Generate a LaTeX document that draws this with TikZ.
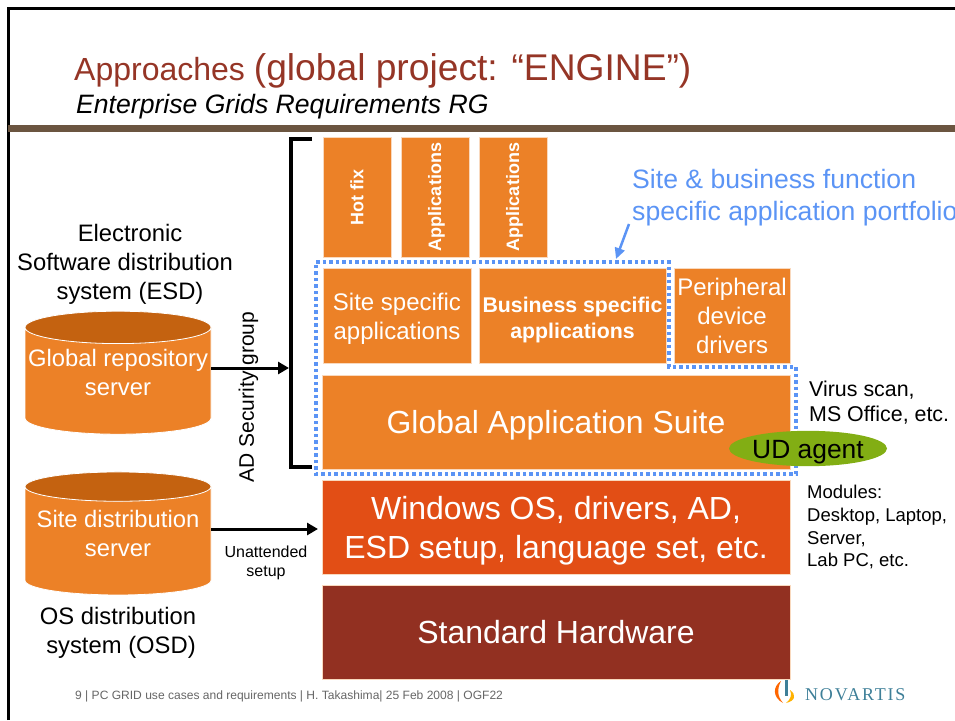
\documentclass[tikz,border=0pt]{standalone}
\usepackage{fontspec}
\setmainfont{Liberation Sans}
\newfontfamily\logofont[LetterSpace=10]{Liberation Serif}
\usetikzlibrary{shapes.geometric,arrows.meta}
\definecolor{boxorange}{HTML}{EC8127}
\definecolor{cylend}{HTML}{C46210}
\definecolor{osred}{HTML}{E24E15}
\definecolor{hwred}{HTML}{923021}
\definecolor{titlered}{HTML}{953526}
\definecolor{bandbrown}{HTML}{6B5540}
\definecolor{dotblue}{HTML}{5B94F5}
\definecolor{agentgreen}{HTML}{82AE14}
\definecolor{logoblue}{HTML}{3E7F98}
\newcommand{\fsz}[2]{\fontsize{#1pt}{#2pt}\selectfont}
\newcommand{\topgap}[1]{\rule{0pt}{#1pt}}
\newcommand{\botgap}[1]{\rule[-#1pt]{0pt}{#1pt}}
\tikzstyle{orangebox}=[rectangle,draw=white!70!boxorange,line width=0.6pt,fill=boxorange,text=white,text centered,inner sep=0pt]
\tikzstyle{hotbox}=[orangebox,minimum width=68pt,minimum height=120pt,font=\fsz{18}{22}\bfseries]
\tikzstyle{midbox}=[orangebox,minimum height=95pt,font=\fsz{24}{29}]
\tikzstyle{widebox}=[orangebox,minimum width=468pt,minimum height=94pt]
\tikzstyle{server}=[cylinder,shape border rotate=90,aspect=0.18,draw=white,line width=0.8pt,cylinder uses custom fill,cylinder body fill=boxorange,cylinder end fill=cylend,minimum width=186pt,minimum height=123pt,text=white,align=center,inner sep=0pt,font=\fsz{23.8}{29}]
\tikzstyle{caption}=[align=center,font=\fsz{23.8}{29}]
\tikzstyle{note}=[align=left,font=\fsz{21.4}{25}]
\tikzstyle{arrow}=[line width=3pt,-{Triangle[length=11pt,width=12pt]}]

\begin{document}
\begin{tikzpicture}[x=1pt,y=-1pt,node distance=78pt]
        \useasboundingbox (0,0) rectangle (955,720);
        \draw [line width=3pt] (8,720) -- (8,8) -- (955,8);
        \fill [bandbrown] (8,125) rectangle (955,132);

        \node (title) [anchor=base west,inner sep=0pt,text=titlered] at (74,80) {\fsz{32}{38}Approaches \fsz{37.2}{40}(global project: “ENGINE”)};
        \node (subtitle) [anchor=base west,inner sep=0pt,font=\fsz{26.6}{30}\itshape] at (76,113) {Enterprise Grids Requirements RG};

        \node (hotfix) [hotbox] at (357,197) {\rotatebox{90}{Hot fix}};
        \node (apps1) [hotbox,right of=hotfix] {\hspace{3pt}\rotatebox{90}{Applications}};
        \node (apps2) [hotbox,right of=apps1] {\hspace{3pt}\rotatebox{90}{Applications}};
        \node (site) [midbox,minimum width=148pt,align=center] at (397,315.5) {\topgap{23}Site specific\\applications};
        \node (business) [midbox,minimum width=187pt,align=center,font=\fsz{21.3}{26}\bfseries,right of=site,xshift=97.5pt] {\topgap{24}Business specific\\applications};
        \node (periph) [midbox,minimum width=116pt,align=center,right of=business,xshift=81.5pt] {Peripheral\\device\\drivers};
        \node (suite) [widebox,text height=26pt,text depth=3pt,font=\fsz{31.9}{36}] at (556,422) {Global Application Suite};
        \node (windows) [widebox,fill=osred,below of=suite,yshift=-27pt,align=center,font=\fsz{32}{39}] {\topgap{31}Windows OS, drivers, AD,\\ESD setup, language set, etc.};
        \node (hardware) [widebox,fill=hwred,below of=windows,yshift=-27pt,font=\fsz{32}{36}] {Standard Hardware};

        \coordinate (d1) at (316,262);
        \coordinate (d2) at (669,262);
        \coordinate (d3) at (669,367);
        \coordinate (d4) at (796,367);
        \coordinate (d5) at (796,474);
        \coordinate (d6) at (316,474);
        \draw [dotblue,line width=3.5pt,dash pattern=on 3.5pt off 3pt] (d1) -- (d2) -- (d3) -- (d4) -- (d5) -- (d6) -- cycle;

        \node (agent) [ellipse,fill=agentgreen,minimum width=158pt,minimum height=31pt,inner sep=0pt,text height=22pt,text depth=3pt,font=\fsz{26.4}{30}] at (808,448.5) {UD agent};

        \node (esd) [caption] at (125,264) {\hspace*{10pt}Electronic\\Software distribution\\\hspace*{10pt}system (ESD)};
        \node (global) [server] at (118,381) {Global repository\\server\botgap{17}};
        \node (sitedist) [server] at (118,541) {Site distribution\\server\botgap{15}};
        \node (osd) [caption] at (118,633) {OS distribution\\\hspace*{6pt}system (OSD)};

        \coordinate (btop) at (312,139);
        \coordinate (bcorner1) at (291,139);
        \coordinate (bcorner2) at (291,467);
        \coordinate (bbottom) at (312,467);
        \coordinate (bentry) at (289,368);
        \draw [line width=3.5pt] (btop) -- (bcorner1) -- (bcorner2) -- (bbottom);
        \draw [arrow] (global.east |- bentry) -- (bentry);
        \coordinate (osentry) at (318,529);
        \draw [arrow] (sitedist.east |- osentry) -- (osentry);

        \node (security) [rotate=90,font=\fsz{21}{25}] at (248.5,397) {AD Security group};
        \node (unattended) [align=center,font=\fsz{16}{19}] at (266,563) {Unattended\\setup};

        \node (portfolio) [anchor=north west,inner sep=0pt,align=left,text=dotblue,font=\fsz{26.6}{32}] at (632,169) {Site \& business function\\specific application portfolio};
        \coordinate (ptail) at (629,224);
        \coordinate (phead) at (616,259);
        \draw [dotblue,line width=2.5pt,-{Triangle[length=11pt,width=10pt]}] (ptail) -- (phead);

        \node (virus) [note,anchor=north west,inner sep=0pt] at (809,381) {Virus scan,\\MS Office, etc.};
        \node (modules) [anchor=north west,inner sep=0pt,align=left,font=\fsz{18.5}{22.7}] at (807,485) {Modules:\\Desktop, Laptop,\\Server,\\Lab PC, etc.};

        \node (footer) [anchor=base west,inner sep=0pt,text=black!60,font=\fsz{12.05}{14}] at (75,699) {9 | PC GRID use cases and requirements | H. Takashima| 25 Feb 2008 | OGF22};

        % logo
        \fill [orange!80!red] (781,681) .. controls (773,686) and (772,697) .. (783,703) .. controls (777,696) and (777,689) .. (781,681) -- cycle;
        \fill [orange!60!yellow] (790,690) .. controls (797,695) and (795,701) .. (786,703) .. controls (791,699) and (792,695) .. (790,690) -- cycle;
        \fill [logoblue] (785,680) rectangle (788,696);
        \node (novartis) [anchor=base west,inner sep=0pt,text=logoblue,font=\logofont\fsz{18}{20}] at (805,700) {NOVARTIS};
\end{tikzpicture}
\end{document}
